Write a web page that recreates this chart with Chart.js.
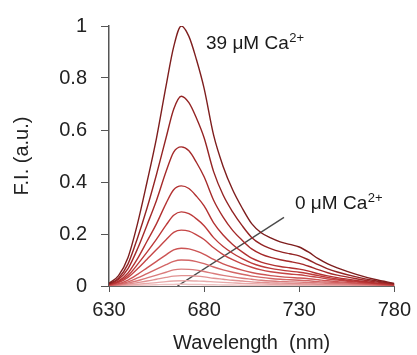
<!DOCTYPE html>
<html>
<head>
<meta charset="utf-8">
<script src="https://cdn.jsdelivr.net/npm/chart.js@4/dist/chart.umd.min.js"></script>
<style>
  html, body { margin: 0; padding: 0; background: #fff; }
  #wrap { width: 417px; height: 355px; }
</style>
</head>
<body>
<div id="wrap"><canvas id="chartCanvas" width="417" height="355"></canvas></div>
<script>
// wavelengths (nm) shared by every spectrum
const wavelengths = [630,635,640,645,650,655,660,664,668,672,676,680,685,690,695,700,705,710,715,720,725,730,735,740,745,750,760,770,780];

// fluorescence intensity, 39 uM Ca2+ down to 0 uM Ca2+
const ca39 = [.01,.04,.11,.24,.40,.57,.77,.92,1.0,.96,.87,.76,.58,.46,.37,.30,.24,.205,.185,.17,.16,.15,.13,.105,.085,.07,.045,.025,.01];
const ca2  = [.008,.03,.085,.185,.30,.43,.57,.68,.73,.705,.645,.57,.44,.35,.285,.232,.187,.16,.144,.132,.124,.116,.1,.082,.066,.054,.035,.02,.008];
const ca3  = [.007,.025,.067,.143,.235,.33,.44,.515,.535,.52,.475,.42,.33,.265,.214,.176,.143,.123,.11,.101,.094,.087,.076,.063,.051,.042,.028,.016,.007];
const ca4  = [.006,.019,.05,.105,.172,.24,.318,.37,.385,.375,.345,.308,.243,.196,.16,.131,.107,.092,.082,.075,.07,.065,.057,.047,.039,.032,.021,.012,.006];
const ca5  = [.005,.016,.04,.083,.13,.18,.234,.272,.285,.278,.258,.232,.186,.152,.126,.105,.088,.076,.068,.062,.057,.053,.047,.04,.033,.027,.018,.01,.005];
const ca6  = [.004,.013,.033,.066,.103,.14,.178,.206,.215,.211,.197,.179,.147,.121,.101,.085,.072,.062,.055,.05,.046,.043,.038,.033,.027,.023,.015,.009,.004];
const ca7  = [.003,.009,.023,.045,.07,.095,.12,.139,.145,.143,.134,.122,.102,.085,.072,.061,.052,.045,.04,.036,.033,.031,.028,.024,.02,.017,.011,.007,.003];
const ca8  = [.002,.007,.016,.031,.048,.065,.082,.095,.10,.099,.094,.086,.073,.062,.053,.045,.038,.033,.029,.026,.024,.022,.02,.017,.015,.013,.009,.005,.002];
const ca9  = [.002,.005,.011,.02,.031,.042,.053,.062,.065,.064,.061,.056,.048,.041,.035,.03,.026,.022,.019,.017,.016,.015,.013,.012,.01,.009,.006,.004,.002];
const ca10 = [.001,.003,.007,.013,.019,.026,.033,.038,.04,.04,.038,.035,.03,.026,.022,.019,.016,.014,.012,.011,.01,.009,.008,.007,.006,.006,.004,.003,.001];
const ca11 = [.001,.002,.004,.007,.01,.013,.017,.019,.02,.02,.019,.018,.016,.014,.012,.01,.009,.008,.007,.006,.006,.005,.005,.004,.004,.003,.002,.002,.001];
const ca0  = [0,.001,.002,.003,.004,.005,.006,.006,.007,.006,.006,.005,.005,.004,.004,.003,.003,.003,.002,.002,.002,.002,.002,.002,.001,.001,.001,.001,0];

const spectra = [ca39, ca2, ca3, ca4, ca5, ca6, ca7, ca8, ca9, ca10, ca11, ca0];

// pointer line from the baseline to the "0 uM" label
const pointerX = [666, 722];
const pointerY = [0, 0.264];

const xTicks = [630, 680, 730, 780];
const yTicks = [0, 0.2, 0.4, 0.6, 0.8, 1];

// label anchors in data units
const topLabel = { x: 681, y: 0.912, text: '39 \u03bcM Ca', sup: '2+' };
const lowLabel = { x: 727.8, y: 0.297, text: '0 \u03bcM Ca', sup: '2+' };

// dark maroon at the top, fading to pale pink
const curveColors = ['#7e1e1e','#942424','#a52a2a','#b33131','#bd3a3a','#c54545','#cc5454','#d36666','#da7b7b','#e19191','#e8a9a9','#eec2c2'];

const FONT = '"Liberation Sans", Arial, sans-serif';

const datasets = spectra.map((vals, i) => ({
  data: wavelengths.map((w, j) => ({ x: w, y: vals[j] })),
  borderColor: curveColors[i],
  borderWidth: 1.4,
  pointRadius: 0,
  cubicInterpolationMode: 'monotone',
  fill: false
}));

datasets.push({
  data: pointerX.map((x, j) => ({ x, y: pointerY[j] })),
  borderColor: '#4a4a4a',
  borderWidth: 1.4,
  pointRadius: 0,
  tension: 0
});

const labelPlugin = {
  id: 'caLabels',
  afterDatasetsDraw(chart) {
    const ctx = chart.ctx;
    const xs = chart.scales.x, ys = chart.scales.y;
    ctx.save();
    ctx.fillStyle = '#1a1a1a';
    ctx.textBaseline = 'alphabetic';
    [topLabel, lowLabel].forEach(l => {
      const px = xs.getPixelForValue(l.x);
      const py = ys.getPixelForValue(l.y);
      ctx.font = '19px ' + FONT;
      ctx.fillText(l.text, px, py);
      const w = ctx.measureText(l.text).width;
      ctx.font = '13px ' + FONT;
      ctx.fillText(l.sup, px + w + 0.5, py - 7);
    });
    ctx.restore();
  }
};

new Chart(document.getElementById('chartCanvas'), {
  type: 'line',
  data: { datasets },
  options: {
    responsive: false,
    animation: false,
    layout: { padding: { top: 24, right: 19, bottom: 0, left: 0 } },
    plugins: { legend: { display: false }, tooltip: { enabled: false } },
    scales: {
      x: {
        type: 'linear',
        min: 630,
        max: 780,
        afterBuildTicks: s => { s.ticks = xTicks.map(v => ({ value: v })); },
        afterFit: s => { s.height = 69; },
        ticks: { color: '#222', font: { size: 20, family: FONT }, padding: 6, maxRotation: 0 },
        grid: { drawOnChartArea: false, drawTicks: true, tickLength: 6, color: '#555' },
        border: { display: true, color: '#666', width: 1, dash: [4, 9] },
        title: { display: true, text: 'Wavelength  (nm)', color: '#222', font: { size: 20, family: FONT }, padding: { top: 0, bottom: 0 } }
      },
      y: {
        min: 0,
        max: 1,
        afterBuildTicks: s => { s.ticks = yTicks.map(v => ({ value: v })); },
        afterFit: s => { s.width = 109; },
        ticks: {
          color: '#222',
          font: { size: 20, family: FONT },
          padding: 14,
          callback: v => String(Number(v.toFixed(1)))
        },
        grid: { drawOnChartArea: false, drawTicks: true, tickLength: 8, color: '#555' },
        border: { display: true, color: '#555', width: 1.5 },
        title: { display: true, text: 'F.I. (a.u.)', color: '#222', font: { size: 20, family: FONT }, padding: { top: 10, bottom: 0 } }
      }
    }
  },
  plugins: [labelPlugin]
});
</script>
</body>
</html>
